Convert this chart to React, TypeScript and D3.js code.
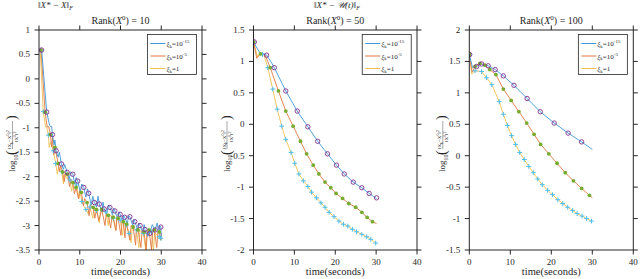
import * as d3 from "d3";

type Pt = [number, number];

// ---- Rank(X0) = 10 ----
const r10BlueLine: Pt[] = [[0,0.59],[0.65,0.59],[1.9,-0.68],[2.6,-0.95],[2.9,-0.98],[3.1,-0.97],[3.3,-1.14],[3.7,-1.35],[3.9,-1.25],[4.2,-1.47],[4.7,-1.6],[5.0,-1.5],[5.5,-1.74],[6.0,-1.85],[6.3,-1.75],[6.9,-1.91],[7.4,-2.05],[7.8,-1.9],[8.3,-1.95],[8.8,-2.15],[9.1,-2.02],[9.5,-2.09],[10.1,-2.3],[10.5,-2.15],[11,-2.22],[11.5,-2.42],[11.9,-2.25],[12.2,-2.34],[12.8,-2.58],[13.2,-2.4],[13.6,-2.53],[14.1,-2.62],[14.5,-2.4],[14.8,-2.56],[15.4,-2.72],[15.7,-2.52],[16,-2.66],[16.6,-2.76],[17,-2.58],[17.4,-2.63],[18,-2.78],[18.3,-2.65],[18.6,-2.7],[19.3,-2.86],[19.6,-2.72],[19.9,-2.77],[20.5,-2.93],[20.8,-2.8],[21,-2.83],[21.7,-2.95],[22,-2.8],[22.3,-2.82],[23,-3.0],[23.3,-2.88],[23.5,-2.92],[24.2,-3.08],[24.5,-2.95],[24.8,-3.0],[25.5,-3.15],[25.8,-2.98],[26,-3.08],[26.7,-3.22],[27,-3.1],[27.2,-3.16],[27.8,-2.98],[28.2,-3.05],[28.5,-3.09],[29,-2.95],[29.4,-3.15],[29.6,-3.0],[29.9,-3.03],[30,-3.25]];
const r10BlueMarks: Pt[] = [[0.65,0.59],[1.9,-0.68],[3.3,-1.14],[4.2,-1.47],[5.5,-1.74],[6.9,-1.91],[8.3,-1.95],[9.5,-2.09],[11,-2.22],[12.2,-2.34],[13.6,-2.53],[14.8,-2.56],[16,-2.66],[17.4,-2.63],[18.6,-2.7],[19.9,-2.77],[21,-2.83],[22.3,-2.82],[23.5,-2.92],[24.8,-3.0],[26,-3.08],[27.2,-3.16],[28.5,-3.09],[29.9,-3.03]];
const r10OrangeLine: Pt[] = [[0,0.59],[0.5,0.59],[1.5,-0.68],[2.0,-0.98],[2.4,-0.98],[2.8,-1.14],[3.1,-1.39],[3.3,-1.2],[3.6,-1.55],[3.9,-1.4],[4.7,-1.73],[5.0,-1.9],[5.3,-1.78],[5.8,-1.9],[6.2,-2.1],[6.5,-1.92],[7,-1.95],[7.5,-2.2],[7.8,-2.05],[8.3,-2.12],[8.7,-2.35],[9.1,-2.22],[9.7,-2.45],[10.0,-2.28],[10.4,-2.32],[10.9,-2.6],[11.2,-2.45],[11.8,-2.53],[12.3,-2.8],[12.6,-2.58],[13.3,-2.63],[13.7,-2.85],[14.1,-2.67],[14.7,-2.9],[15.4,-2.67],[16.2,-3.0],[16.5,-2.75],[17,-2.79],[17.6,-3.05],[17.9,-2.8],[18.2,-2.83],[18.9,-3.1],[19.1,-2.84],[19.4,-2.85],[20.1,-3.2],[20.4,-2.9],[20.7,-2.92],[21.1,-3.25],[21.3,-2.95],[21.5,-2.97],[22.3,-3.3],[22.6,-3.0],[23.1,-3.03],[23.7,-3.4],[23.9,-3.05],[24.3,-3.09],[25,-3.45],[25.3,-3.1],[25.8,-3.13],[26.3,-3.5],[26.6,-3.1],[27,-3.09],[27.6,-3.5],[27.9,-3.1],[28.3,-3.09],[28.9,-3.45],[29.2,-3.12],[29.5,-3.13],[29.9,-3.3],[30,-3.15]];
const r10GreenMarks: Pt[] = [[0.5,0.59],[1.5,-0.68],[2.8,-1.14],[3.9,-1.4],[4.7,-1.73],[5.8,-1.9],[7,-1.95],[8.3,-2.12],[9.1,-2.22],[10.4,-2.32],[11.8,-2.53],[13.3,-2.63],[14.1,-2.67],[15.4,-2.67],[17,-2.79],[18.2,-2.83],[19.4,-2.85],[20.7,-2.92],[21.5,-2.97],[23.1,-3.03],[24.3,-3.09],[25.8,-3.13],[27,-3.09],[28.3,-3.09],[29.5,-3.13]];
const r10YellowLine: Pt[] = [[0,0.59],[0.3,0.59],[1.05,-0.67],[1.6,-0.98],[1.9,-0.98],[2.3,-1.15],[2.5,-1.4],[2.8,-1.3],[3.5,-1.47],[3.8,-1.6],[4.1,-1.73],[4.5,-1.95],[4.8,-1.8],[5.6,-1.9],[6.0,-2.15],[6.3,-1.95],[7.0,-2.05],[7.6,-2.07],[8.0,-2.3],[8.4,-2.1],[9.2,-2.17],[9.8,-2.45],[10.1,-2.3],[10.5,-2.51],[11.0,-2.6],[11.5,-2.67],[12,-2.75],[12.5,-2.62],[13.2,-2.85],[13.5,-2.65],[14.1,-2.69],[14.8,-2.95],[15.1,-2.7],[16.4,-2.72],[17,-3.0],[17.3,-2.78],[18.2,-2.85],[18.8,-3.1],[19.1,-2.86],[19.9,-2.89],[20.5,-3.2],[20.8,-2.95],[21.5,-2.99],[22.1,-3.16],[22.6,-3.35],[22.9,-3.05],[23.9,-3.09],[24.5,-3.45],[24.8,-3.1],[25.6,-3.16],[26.2,-3.5],[26.5,-3.15],[27.6,-3.13],[28.1,-3.5],[28.4,-3.15],[29.5,-3.23],[29.9,-3.26],[30,-3.3]];
const r10CyanMarks: Pt[] = [[0.3,0.59],[1.05,-0.67],[2.3,-1.15],[3.5,-1.47],[4.1,-1.73],[5.6,-1.9],[7.6,-2.07],[9.2,-2.17],[10.5,-2.51],[11.5,-2.67],[12.5,-2.62],[14.1,-2.69],[16.4,-2.72],[18.2,-2.85],[19.9,-2.89],[21.5,-2.99],[22.1,-3.16],[23.9,-3.09],[25.6,-3.16],[27.6,-3.13],[29.5,-3.23],[29.9,-3.26]];

// ---- Rank(X0) = 50 ----
const r50BlueLine: Pt[] = [[0,1.31],[1.6,1.13],[3.0,1.11],[3.2,1.10],[4.4,0.98],[5.1,0.90],[7.9,0.53],[10.7,0.21],[13.3,-0.04],[15.7,-0.27],[18.1,-0.47],[20.3,-0.65],[22.2,-0.79],[24.4,-0.92],[26.5,-1.01],[28.3,-1.10],[30.1,-1.18]];
const r50BlueMarks: Pt[] = [[0.2,1.31],[3.2,1.10],[5.1,0.90],[7.9,0.53],[10.7,0.21],[13.3,-0.04],[15.7,-0.27],[18.1,-0.47],[20.3,-0.65],[22.2,-0.79],[24.4,-0.92],[26.5,-1.01],[28.3,-1.10],[30.1,-1.17]];
const r50OrangeLine: Pt[] = [[0,1.31],[0.8,1.05],[1.6,1.12],[2.8,1.11],[4.1,0.90],[6.1,0.53],[7.9,0.21],[9.7,-0.03],[11.5,-0.27],[13,-0.47],[14.6,-0.65],[16,-0.79],[17.5,-0.92],[18.9,-1.01],[20.2,-1.10],[21.8,-1.18],[23.3,-1.26],[25,-1.32],[26.5,-1.40],[27.8,-1.48],[29.1,-1.55],[30.1,-1.58]];
const r50GreenMarks: Pt[] = [[0,1.31],[1.7,1.12],[4.1,0.90],[6.1,0.53],[7.9,0.21],[9.7,-0.03],[11.5,-0.27],[13,-0.47],[14.6,-0.65],[16,-0.79],[17.5,-0.92],[18.9,-1.01],[20.2,-1.10],[21.8,-1.18],[23.3,-1.26],[25,-1.32],[26.5,-1.40],[27.8,-1.48],[29.1,-1.55]];
const r50YellowLine: Pt[] = [[0,1.31],[1.0,1.07],[1.5,1.12],[2.5,1.11],[3.5,0.90],[4.7,0.56],[5.8,0.24],[6.9,-0.03],[7.9,-0.24],[9.2,-0.45],[10.1,-0.62],[11.1,-0.79],[12.2,-0.90],[13.3,-0.99],[14.2,-1.08],[15.4,-1.17],[16.5,-1.25],[17.5,-1.32],[18.5,-1.40],[19.7,-1.47],[20.9,-1.54],[22,-1.59],[23.1,-1.62],[24.2,-1.67],[25.2,-1.71],[26.5,-1.75],[27.7,-1.79],[28.7,-1.83],[29.9,-1.89]];
const r50CyanMarks: Pt[] = [[0,1.31],[2.2,1.11],[3.5,0.90],[4.7,0.56],[5.8,0.24],[6.9,-0.03],[7.9,-0.24],[9.2,-0.45],[10.1,-0.62],[11.1,-0.79],[12.2,-0.90],[13.3,-0.99],[14.2,-1.08],[15.4,-1.17],[16.5,-1.25],[17.5,-1.32],[18.5,-1.40],[19.7,-1.47],[20.9,-1.54],[22,-1.59],[23.1,-1.62],[24.2,-1.67],[25.2,-1.71],[26.5,-1.75],[27.7,-1.79],[28.7,-1.83],[29.9,-1.89]];

// ---- Rank(X0) = 100 ----
const r100BlueLine: Pt[] = [[0,1.61],[0.8,1.40],[1.8,1.42],[3,1.46],[4.6,1.43],[6.3,1.37],[8.3,1.27],[10.9,1.12],[14.1,0.91],[17.3,0.70],[20.7,0.52],[24.1,0.36],[27.4,0.22],[30,0.10]];
const r100BlueMarks: Pt[] = [[0.1,1.61],[1.8,1.42],[3,1.46],[4.6,1.43],[6.3,1.37],[8.3,1.27],[10.9,1.12],[14.1,0.91],[17.3,0.70],[20.7,0.52],[24.1,0.36],[27.4,0.22]];
const r100OrangeLine: Pt[] = [[0,1.61],[0.7,1.33],[1.4,1.42],[2.6,1.47],[3.8,1.44],[5,1.37],[6.5,1.29],[8.3,1.06],[10.2,0.88],[12.1,0.70],[14,0.52],[15.8,0.34],[17.4,0.18],[19.4,0.03],[21.4,-0.12],[23.4,-0.27],[25.4,-0.40],[27.4,-0.52],[29.3,-0.63],[30,-0.67]];
const r100GreenMarks: Pt[] = [[0,1.61],[1.4,1.42],[2.6,1.47],[3.8,1.44],[5,1.37],[6.5,1.29],[8.3,1.06],[10.2,0.88],[12.1,0.70],[14,0.52],[15.8,0.34],[17.4,0.18],[19.4,0.03],[21.4,-0.12],[23.4,-0.27],[25.4,-0.40],[27.4,-0.52],[29.3,-0.63]];
const r100YellowLine: Pt[] = [[0,1.61],[0.6,1.30],[1.4,1.35],[3,1.34],[4.2,1.24],[5.5,1.13],[7.3,0.86],[8.3,0.66],[9.3,0.48],[10.3,0.32],[11.3,0.18],[12.3,0.05],[13.4,-0.06],[14.5,-0.17],[15.6,-0.27],[16.7,-0.37],[17.8,-0.46],[19.1,-0.55],[20.3,-0.62],[21.6,-0.70],[22.8,-0.76],[24,-0.82],[25.2,-0.87],[26.3,-0.92],[27.5,-0.96],[28.6,-1.00],[29.8,-1.04]];
const r100CyanMarks: Pt[] = [[0,1.61],[1.4,1.35],[3,1.34],[4.2,1.24],[5.5,1.13],[7.3,0.86],[8.3,0.66],[9.3,0.48],[10.3,0.32],[11.3,0.18],[12.3,0.05],[13.4,-0.06],[14.5,-0.17],[15.6,-0.27],[16.7,-0.37],[17.8,-0.46],[19.1,-0.55],[20.3,-0.62],[21.6,-0.70],[22.8,-0.76],[24,-0.82],[25.2,-0.87],[26.3,-0.92],[27.5,-0.96],[28.6,-1.00],[29.8,-1.04]];

const xTicks = [0, 10, 20, 30, 40];
const legendExps = ["-15", "-5", ""];

const BLUE = "#3f97d6";
const ORANGE = "#e0783f";
const YELLOW = "#f0c050";
const PURPLE = "#7E2F8E";
const GREEN = "#77AC30";
const CYAN = "#4DBEEE";
const AX = "#262626";
const FONT = "Liberation Serif, Times New Roman, serif";

const panels = [
  { rank: 10, x0: 39, x1: 202, yDomain: [-3.5, 1], yTicks: [1, 0.5, 0, -0.5, -1, -1.5, -2, -2.5, -3, -3.5],
    blue: r10BlueLine, blueM: r10BlueMarks, orange: r10OrangeLine, greenM: r10GreenMarks, yellow: r10YellowLine, cyanM: r10CyanMarks },
  { rank: 50, x0: 253.5, x1: 417, yDomain: [-2, 1.5], yTicks: [1.5, 1, 0.5, 0, -0.5, -1, -1.5, -2],
    blue: r50BlueLine, blueM: r50BlueMarks, orange: r50OrangeLine, greenM: r50GreenMarks, yellow: r50YellowLine, cyanM: r50CyanMarks },
  { rank: 100, x0: 469.3, x1: 633.3, yDomain: [-1.5, 2], yTicks: [2, 1.5, 1, 0.5, 0, -0.5, -1, -1.5],
    blue: r100BlueLine, blueM: r100BlueMarks, orange: r100OrangeLine, greenM: r100GreenMarks, yellow: r100YellowLine, cyanM: r100CyanMarks },
];

const TOP = 30;
const BOTTOM = 250;
const txt = { fontFamily: FONT };

function Panel({ p }: { p: (typeof panels)[number] }) {
  const x = d3.scaleLinear().domain([0, 40]).range([p.x0, p.x1]);
  const y = d3.scaleLinear().domain(p.yDomain).range([BOTTOM, TOP]);
  const line = d3.line<Pt>().x((d) => x(d[0])).y((d) => y(d[1]));
  const cx = (p.x0 + p.x1) / 2;
  const lx = p.x0 + (p.x1 - p.x0) * 0.665;
  const ly = 34.5;
  const labelX = p.x0 - 24;
  const labelY = 138;

  return (
    <g>
      <defs>
        <clipPath id={`clip${p.rank}`}>
          <rect x={p.x0} y={TOP} width={p.x1 - p.x0} height={BOTTOM - TOP} />
        </clipPath>
      </defs>
      <g clipPath={`url(#clip${p.rank})`}>
        <path d={line(p.yellow) ?? ""} fill="none" stroke={YELLOW} strokeWidth={0.9} />
        <path d={line(p.orange) ?? ""} fill="none" stroke={ORANGE} strokeWidth={0.9} />
        <path d={line(p.blue) ?? ""} fill="none" stroke={BLUE} strokeWidth={0.9} />
        {p.cyanM.map((d, i) => (
          <path key={"c" + i} d={`M${x(d[0]) - 2.4},${y(d[1])}h4.8M${x(d[0])},${y(d[1]) - 2.4}v4.8`} stroke={CYAN} strokeWidth={1} />
        ))}
        {p.greenM.map((d, i) => (
          <circle key={"g" + i} cx={x(d[0])} cy={y(d[1])} r={1.9} fill={GREEN} />
        ))}
        {p.blueM.map((d, i) => (
          <circle key={"b" + i} cx={x(d[0])} cy={y(d[1])} r={2.2} fill="none" stroke={PURPLE} strokeWidth={0.9} />
        ))}
      </g>
      {/* box */}
      <rect x={p.x0} y={TOP} width={p.x1 - p.x0} height={BOTTOM - TOP} fill="none" stroke={AX} strokeWidth={1} />
      {xTicks.map((t) => (
        <g key={"xt" + t}>
          <line x1={x(t)} x2={x(t)} y1={BOTTOM} y2={BOTTOM + 4.5} stroke={AX} />
          <line x1={x(t)} x2={x(t)} y1={TOP} y2={TOP - 4.5} stroke={AX} />
          <text x={x(t)} y={BOTTOM + 15} textAnchor="middle" fontSize={9} fill={AX} style={txt}>{t}</text>
        </g>
      ))}
      {p.yTicks.map((t) => (
        <g key={"yt" + t}>
          <line x1={p.x0} x2={p.x0 - 4.5} y1={y(t)} y2={y(t)} stroke={AX} />
          <line x1={p.x1} x2={p.x1 + 4.5} y1={y(t)} y2={y(t)} stroke={AX} />
          <text x={p.x0 - 9} y={y(t) + 3} textAnchor="end" fontSize={9} fill={AX} style={txt}>{String(t)}</text>
        </g>
      ))}
      <text x={cx} y={24} textAnchor="middle" fontSize={10} fill={AX} style={txt}>
        Rank(<tspan fontStyle="italic">X</tspan><tspan dy={-4} fontSize={7}>0</tspan><tspan dy={4}>) = {p.rank}</tspan>
      </text>
      <text x={cx} y={275} textAnchor="middle" fontSize={10.5} fill={AX} style={txt}>time(seconds)</text>
      {/* y label */}
      <g transform={`translate(${labelX},${labelY}) rotate(-90)`} fill={AX} style={txt}>
        <text x={-34} y={0} fontSize={9}>log<tspan dy={2.5} fontSize={6}>10</tspan></text>
        <text x={-17} y={1} fontSize={14}>(</text>
        <text x={-11} y={-4} fontSize={5}>‖X<tspan dy={1.5} fontSize={4}>k</tspan><tspan dy={-1.5}>−X</tspan><tspan dy={-2} fontSize={4}>0</tspan><tspan dy={2}>‖</tspan><tspan dy={-2} fontSize={4}>2</tspan></text>
        <line x1={-11} x2={17} y1={-2.5} y2={-2.5} stroke={AX} strokeWidth={0.4} />
        <text x={-4} y={3} fontSize={5}>‖X<tspan dy={-2} fontSize={4}>0</tspan><tspan dy={2}>‖</tspan><tspan dy={-2} fontSize={4}>2</tspan></text>
        <text x={18} y={1} fontSize={14}>)</text>
      </g>
      {/* legend */}
      <g>
        <rect x={lx} y={ly} width={49} height={40} fill="white" stroke={AX} strokeWidth={0.8} />
        {[BLUE, ORANGE, YELLOW].map((c, i) => (
          <g key={"lg" + i}>
            <line x1={lx + 3} x2={lx + 18} y1={ly + 9 + i * 12.5} y2={ly + 9 + i * 12.5} stroke={c} strokeWidth={1} />
            <text x={lx + 19} y={ly + 11.5 + i * 12.5} fontSize={7} fill={AX} style={txt}>
              <tspan fontStyle="italic">ξ</tspan><tspan dy={1.5} fontSize={5}>k</tspan>
              <tspan dy={-1.5}>{legendExps[i] ? "=10" : "=1"}</tspan>
              {legendExps[i] ? <tspan dy={-3} fontSize={5}>{legendExps[i]}</tspan> : null}
            </text>
          </g>
        ))}
      </g>
    </g>
  );
}

export default function App() {
  return (
    <svg width={640} height={279} style={{ position: "absolute", left: 0, top: 0, background: "white" }}>
      <text x={38} y={8} fontSize={9} fill={AX} fontStyle="italic" style={txt}>‖X* − X‖<tspan dy={1.5} fontSize={6}>F</tspan></text>
      <text x={314} y={8} fontSize={9} fill={AX} fontStyle="italic" style={txt}>‖X* − 𝒰(t)‖<tspan dy={1.5} fontSize={6}>F</tspan></text>
      {panels.map((p) => (
        <Panel key={p.rank} p={p} />
      ))}
    </svg>
  );
}
